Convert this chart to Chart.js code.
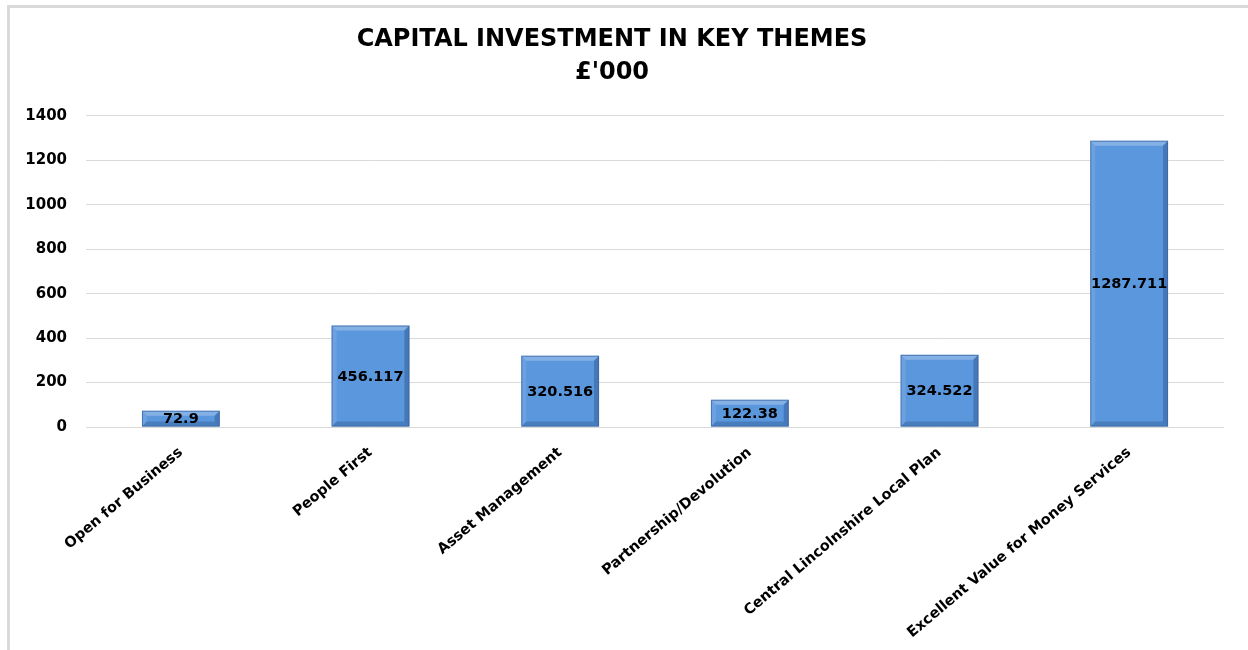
<!DOCTYPE html>
<html>
<head>
<meta charset="utf-8">
<script src="https://cdn.jsdelivr.net/npm/chart.js@4.4.0/dist/chart.umd.min.js"></script>
<style>
  html, body { margin: 0; padding: 0; background: #fff; }
  #wrap { position: relative; width: 1248px; height: 650px; }
  #frame {
    position: absolute; left: 7px; top: 5px; right: 0; bottom: 0;
    border-top: 3px solid #d9d9d9; border-left: 3px solid #d9d9d9;
  }
  canvas { position: absolute; left: 0; top: 0; }
</style>
</head>
<body>
<div id="wrap">
  <div id="frame"></div>
  <canvas id="themeChart" width="1248" height="650"></canvas>
</div>
<script>
const themes = [
    "Open for Business",
    "People First",
    "Asset Management",
    "Partnership/Devolution",
    "Central Lincolnshire Local Plan",
    "Excellent Value for Money Services",
];
const investment = [72.9, 456.117, 320.516, 122.38, 324.522, 1287.711];
const titleLines = ["CAPITAL INVESTMENT IN KEY THEMES", "£'000"];

const FONT = "'DejaVu Sans', sans-serif";

// bevelled bars, like the spreadsheet's soft-edge effect
const bevelPlugin = {
    id: "bevel",
    afterDatasetsDraw(chart) {
        const ctx = chart.ctx;
        chart.getDatasetMeta(0).data.forEach((bar) => {
            const l = bar.x - bar.width / 2;
            const r = bar.x + bar.width / 2;
            const t = bar.y;
            const b = bar.base;
            const e = Math.min(5, (b - t) / 2);
            ctx.save();
            const band = (pts, col) => {
                ctx.beginPath();
                ctx.moveTo(pts[0][0], pts[0][1]);
                pts.slice(1).forEach((p) => ctx.lineTo(p[0], p[1]));
                ctx.closePath();
                ctx.fillStyle = col;
                ctx.fill();
            };
            band([[l, t], [r, t], [r - e, t + e], [l + e, t + e]], "rgba(255,255,255,0.25)");
            band([[l, t], [l + e, t + e], [l + e, b - e], [l, b]], "rgba(255,255,255,0.1)");
            band([[r, t], [r, b], [r - e, b - e], [r - e, t + e]], "rgba(20,50,100,0.3)");
            band([[l, b], [l + e, b - e], [r - e, b - e], [r, b]], "rgba(20,50,100,0.25)");
            ctx.strokeStyle = "rgba(60,100,160,0.7)";
            ctx.lineWidth = 1;
            ctx.strokeRect(l + 0.5, t + 0.5, r - l - 1, b - t - 1);
            ctx.restore();
        });
    },
};

const valueLabels = {
    id: "valueLabels",
    afterDatasetsDraw(chart) {
        const ctx = chart.ctx;
        ctx.save();
        ctx.font = "bold 14.5px " + FONT;
        ctx.fillStyle = "#000";
        ctx.textAlign = "center";
        ctx.textBaseline = "middle";
        chart.getDatasetMeta(0).data.forEach((bar, i) => {
            ctx.fillText(String(investment[i]), bar.x, (bar.y + bar.base) / 2 + 1);
        });
        ctx.restore();
    },
};

new Chart(document.getElementById("themeChart"), {
    type: "bar",
    data: {
        labels: themes,
        datasets: [{
            data: investment,
            backgroundColor: "#5b97dd",
            borderWidth: 0,
            categoryPercentage: 1,
            barPercentage: 0.41,
        }],
    },
    options: {
        responsive: false,
        animation: false,
        layout: { padding: { left: 0, right: 24, top: 0, bottom: 0 } },
        plugins: {
            legend: { display: false },
            tooltip: { enabled: false },
            title: {
                display: true,
                text: titleLines,
                color: "#000",
                font: { family: FONT, size: 24, weight: "bold", lineHeight: 1.35 },
                padding: { top: 24, bottom: 27 },
            },
        },
        scales: {
            x: {
                afterFit(scale) { scale.height = 223; },
                grid: { display: false },
                border: { display: false },
                ticks: {
                    color: "#000",
                    font: { family: FONT, size: 14.5, weight: "bold" },
                    minRotation: 40,
                    maxRotation: 40,
                    padding: 9,
                    autoSkip: false,
                },
            },
            y: {
                min: 0,
                max: 1400,
                afterFit(scale) { scale.width = 86; },
                grid: { color: "#d9d9d9", drawTicks: false },
                border: { display: false },
                ticks: {
                    stepSize: 200,
                    color: "#000",
                    font: { family: FONT, size: 15, weight: "bold" },
                    padding: 19,
                    callback: (v) => String(v),
                },
            },
        },
    },
    plugins: [bevelPlugin, valueLabels],
});
</script>
</body>
</html>
